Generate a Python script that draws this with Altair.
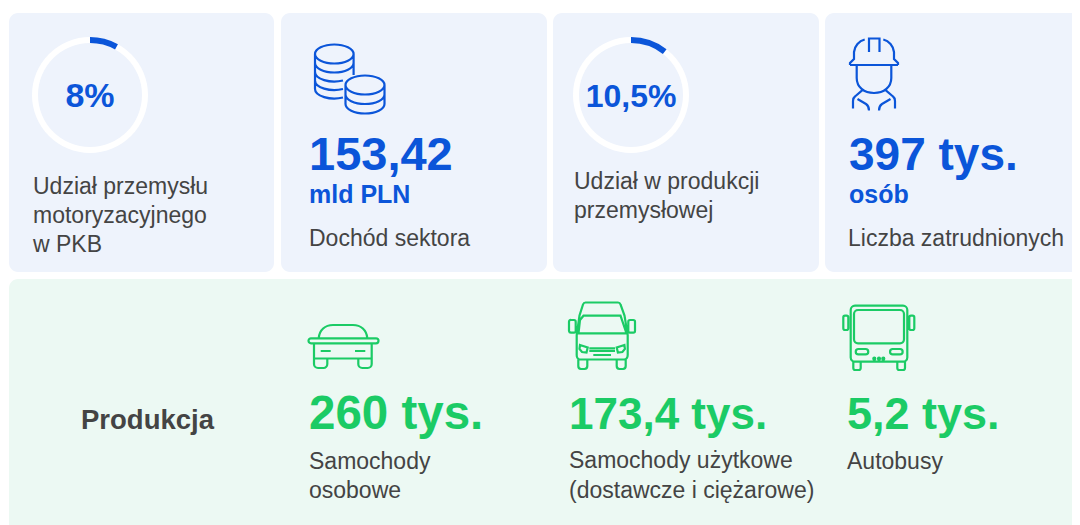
import altair as alt
import pandas as pd

FONT = "Liberation Sans"
BLUE = "#0B55D9"
GREEN = "#1BCB65"
DARK = "#444444"
CARD_BLUE = "#EEF3FC"
CARD_GREEN = "#ECF9F3"

# cards
card_x = [9, 281, 553, 825, 9]
card_x2 = [274, 547, 819, 1100, 1100]
card_y = [13, 13, 13, 13, 279]
card_y2 = [272, 272, 272, 272, 545]
card_fill = [CARD_BLUE] * 4 + [CARD_GREEN]

# rings (share in percent)
ring_cx = [90, 90, 631, 631]
ring_cy = [95, 95, 95, 95]
ring_end = [100, 8, 100, 10.5]
ring_col = ["#FFFFFF", BLUE, "#FFFFFF", BLUE]

# texts
bold_text = ["153,42", "mld PLN", "397 tys.", "osób", "Produkcja", "260 tys.", "173,4 tys.", "5,2 tys."]
bold_x = [309, 309, 849, 849, 81, 309, 569, 847]
bold_y = [170, 203, 170, 203, 429, 429, 429, 429]
bold_size = [47, 25, 46, 25, 27.5, 47.5, 44, 45]
bold_col = [BLUE, BLUE, BLUE, BLUE, DARK, GREEN, GREEN, GREEN]

pct_text = ["8%", "10,5%"]
pct_x = [90, 631]
pct_y = [107, 107]
pct_size = [34, 32]

reg_text = ["Udział przemysłu", "motoryzacyjnego", "w PKB", "Dochód sektora", "Udział w produkcji",
            "przemysłowej", "Liczba zatrudnionych", "Samochody", "osobowe", "Samochody użytkowe",
            "(dostawcze i ciężarowe)", "Autobusy"]
reg_x = [33, 33, 33, 309, 574, 574, 848, 309, 309, 569, 569, 847]
reg_y = [194, 223, 252, 246, 189, 218, 246, 469, 498, 468, 498, 469]

# icons: outlines relative to an anchor, in px
coins = ("M0 10A19.3 9.5 0 0 1 38.6 10A19.3 9.5 0 0 1 0 10Z"
         "M0 10V45A19.3 9.5 0 0 0 28 53.5"
         "M38.6 10V31"
         "M0 19A19.3 9.5 0 0 0 38.6 19"
         "M0 28A19.3 9.5 0 0 0 28 36.5"
         "M0 36.5A19.3 9.5 0 0 0 28 45"
         "M30.5 41A19.5 9.5 0 0 1 69.5 41A19.5 9.5 0 0 1 30.5 41Z"
         "M30.5 41V60A19.5 9.5 0 0 0 69.5 60V41"
         "M30.5 50.5A19.5 9.5 0 0 0 69.5 50.5")
worker = ("M0 27H48"
          "M0 27V25L4 21V14C4.7 8 9 3 14.7 1.5"
          "M48 27V25L44 21V14C43.3 8 39 3 33.3 1.5"
          "M19 14V0.5H29.5V14"
          "M6.7 28V40C6.7 49 14 55 24 55C34 55 41.3 49 41.3 40V28"
          "M13.3 51.3L5 58.5Q3 60 3 63V70.5"
          "M7.5 61L16 66Q19 68 19 72.5"
          "M34.7 51.3L43 58.5Q45 60 45 63V70.5"
          "M40.5 61L32 66Q29 68 29 72.5")
car = ("M10.7 14C11.5 6 17 1 25 1H45C53 1 58.5 6 59.3 14"
       "M3 14.3H68A2.5 2.5 0 0 1 68 19.3H3A2.5 2.5 0 0 1 3 14.3Z"
       "M6 19.3V40A4 4 0 0 0 10 44H15.5A4 4 0 0 0 19.3 40V34.5H50.3V40A4 4 0 0 0 54.3 44H59.7A4 4 0 0 0 63.7 40V19.3"
       "M6 34.5H19.3M50.3 34.5H63.7"
       "M12.7 27H22.7M47 27H57.3")
van = ("M17.5 0.5H50C51 0.5 52 1 52.5 2.5L56.5 13.5L59.7 33V53C59.7 55 58.5 57.5 56 57.5H12C9.7 57.5 8.7 55 8.7 53V33L11.5 13.5L15 2.5C15.5 1 16.5 0.5 17.5 0.5Z"
       "M15.5 13.7H52.5L58.5 31.3H10.5L12 18Z"
       "M3 18H6A1.7 1.7 0 0 1 7.7 19.7V29A1.7 1.7 0 0 1 6 30.7H3A2 2 0 0 1 1 29V19.7A1.7 1.7 0 0 1 3 18Z"
       "M62 18H65.3A1.7 1.7 0 0 1 67 19.7V29A1.7 1.7 0 0 1 65.3 30.7H62A1.7 1.7 0 0 1 60.3 29V19.7A1.7 1.7 0 0 1 62 18Z"
       "M12 43L19.7 45.5L18.5 50.5L14 50L11.5 47Z"
       "M56.4 43L48.7 45.5L49.9 50.5L54.4 50L56.9 47Z"
       "M21.3 46.3H47M21.3 49H47"
       "M25.3 53H43"
       "M10.3 57.5V64A3 3 0 0 0 13 67H16.5A3 3 0 0 0 19.3 64V57.5"
       "M48.7 57.5V64A3 3 0 0 0 51.5 67H55A3 3 0 0 0 57.7 64V57.5")
bus = ("M12 0.7H60A4.3 4.3 0 0 1 64.3 5V52.5A4.3 4.3 0 0 1 60 56.7H12A4.3 4.3 0 0 1 7.7 52.5V5A4.3 4.3 0 0 1 12 0.7Z"
       "M15 5H57A4 4 0 0 1 61 9V34.3A4 4 0 0 1 57 38.3H15A4 4 0 0 1 11 34.3V9A4 4 0 0 1 15 5Z"
       "M2 10.7H3.6A1.7 1.7 0 0 1 5.3 12.4V23.3A1.7 1.7 0 0 1 3.6 25H2A1.7 1.7 0 0 1 0.3 23.3V12.4A1.7 1.7 0 0 1 2 10.7Z"
       "M68 10.7H69.6A1.7 1.7 0 0 1 71.3 12.4V23.3A1.7 1.7 0 0 1 69.6 25H68A1.7 1.7 0 0 1 66.3 23.3V12.4A1.7 1.7 0 0 1 68 10.7Z"
       "M5.3 16V20M66.3 16V20"
       "M15.4 44H22.6A2.6 2.6 0 0 1 22.6 49.3H15.4A2.6 2.6 0 0 1 15.4 44Z"
       "M49.7 44H57A2.6 2.6 0 0 1 57 49.3H49.7A2.6 2.6 0 0 1 49.7 44Z"
       "M30.3 53.7A1 1 0 0 1 32.3 53.7A1 1 0 0 1 30.3 53.7Z"
       "M35 53.7A1 1 0 0 1 37 53.7A1 1 0 0 1 35 53.7Z"
       "M39.3 53.7A1 1 0 0 1 41.3 53.7A1 1 0 0 1 39.3 53.7Z"
       "M10.3 56.7V63A2 2 0 0 0 12.3 65H15.7A2 2 0 0 0 17.7 63V56.7"
       "M54.3 56.7V63A2 2 0 0 0 56.3 65H60A2 2 0 0 0 62 63V56.7")
icon_path = [coins, worker, car, van, bus]
icon_x = [315, 850, 308, 568, 843]
icon_y = [44, 38, 324, 302, 305]
icon_col = [BLUE, BLUE, GREEN, GREEN, GREEN]

xs = alt.Scale(domain=[8, 1072], nice=False, zero=False)
ys = alt.Scale(domain=[525, 8], nice=False, zero=False)
X = lambda f: alt.X(f, type="quantitative", scale=xs, axis=None)
Y = lambda f: alt.Y(f, type="quantitative", scale=ys, axis=None)

cards = alt.Chart(pd.DataFrame(dict(x=card_x, x2=card_x2, y=card_y, y2=card_y2, c=card_fill))).mark_rect(
    cornerRadius=9, clip=True
).encode(X("x"), x2="x2", y=Y("y"), y2="y2", color=alt.Color("c:N", scale=None))

rings = alt.Chart(pd.DataFrame(dict(x=ring_cx, y=ring_cy, s=[0] * 4, e=ring_end, c=ring_col))).mark_arc(
    radius=58, radius2=52
).encode(
    X("x"), Y("y"),
    theta=alt.Theta("s:Q", scale=alt.Scale(domain=[0, 100], range=[0, 6.28318531]), stack=None),
    theta2="e:Q",
    color=alt.Color("c:N", scale=None),
    order=alt.Order("e:Q", sort="descending"),
)

def text_layer(t, x, y, size, col, weight, align):
    df = pd.DataFrame(dict(t=t, x=x, y=y, s=size, c=col))
    return alt.Chart(df).mark_text(font=FONT, fontWeight=weight, align=align, baseline="alphabetic").encode(
        X("x"), Y("y"), text="t:N",
        size=alt.Size("s:Q", scale=None),
        color=alt.Color("c:N", scale=None),
    )

bold = text_layer(bold_text, bold_x, bold_y, bold_size, bold_col, "bold", "left")
pct = text_layer(pct_text, pct_x, pct_y, pct_size, [BLUE, BLUE], "bold", "center")
reg = text_layer(reg_text, reg_x, reg_y, [23] * len(reg_text), [DARK] * len(reg_text), "normal", "left")

icons = alt.Chart(pd.DataFrame(dict(x=icon_x, y=icon_y, p=icon_path, c=icon_col))).mark_point(
    filled=False, opacity=1, strokeWidth=2.2, size=4
).encode(
    X("x"), Y("y"),
    shape=alt.Shape("p:N", scale=None),
    stroke=alt.Stroke("c:N", scale=None),
)

chart = alt.layer(cards, rings, icons, bold, pct, reg).properties(
    width=1064, height=517, padding=0, autosize="none", background="#FFFFFF"
).configure_view(stroke=None)

chart.save("out.html", embed_options={"renderer": "svg", "actions": False})
